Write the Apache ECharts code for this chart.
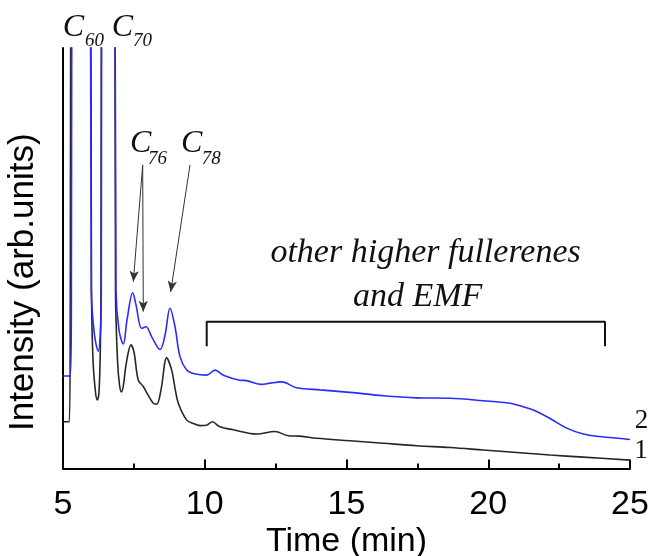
<!DOCTYPE html>
<html><head><meta charset="utf-8">
<script src="https://cdn.jsdelivr.net/npm/echarts@6/dist/echarts.min.js"></script>
<style>html,body{margin:0;padding:0;background:#fff}#c{width:653px;height:556px}</style>
</head><body><div id="c"></div>
<script>
// ---- data (time in min, intensity in arbitrary units; values above 100 are clipped peaks) ----
const curve1 = [
  [5.0,11.1],[5.222,11.1],[5.257,40.1],[5.293,150],[5.6,200],[5.952,150],[6.005,42.4],[6.058,25.8],
  [6.146,18.2],[6.21,16.3],[6.27,18.2],[6.316,28.2],[6.34,42.4],[6.369,150],[6.587,200],[6.817,150],
  [6.852,42.4],[6.922,25.8],[6.993,19.9],[7.063,18.2],[7.134,19.9],[7.222,24.6],[7.399,29.4],[7.504,27.7],
  [7.656,21.0],[7.832,19.5],[7.998,17.5],[8.185,15.5],[8.305,15.3],[8.457,18.7],[8.658,26.3],[8.834,23.4],
  [8.951,19.1],[9.067,15.5],[9.363,11.5],[9.596,10.7],[9.832,10.2],[10.069,10.3],[10.266,11.1],[10.538,9.9],
  [11.007,9.2],[11.832,8.2],[12.478,8.8],[12.947,7.8],[13.36,7.7],[13.949,7.2],[15.123,6.6],[16.298,6.0],
  [17.476,5.4],[18.651,5.0],[19.825,4.4],[21.004,3.8],[22.178,3.2],[23.353,2.7],[25.0,2.0]
];
const curve2 = [
  [5.0,22.0],[5.26,22.0],[5.295,40.0],[5.328,150],[5.635,200],[5.952,150],[5.998,42.4],[6.111,31.7],
  [6.245,27.9],[6.323,32.9],[6.351,42.4],[6.376,150],[6.587,200],[6.817,150],[6.869,42.4],[6.975,32.9],
  [7.127,29.6],[7.257,35.3],[7.459,41.8],[7.575,38.9],[7.776,33.3],[7.928,33.7],[8.129,31.3],[8.422,28.3],
  [8.598,31.7],[8.774,38.1],[8.951,33.7],[9.127,26.6],[9.363,23.4],[9.596,22.6],[10.069,22.2],[10.362,23.4],
  [10.654,22.2],[11.243,21.0],[11.48,20.9],[12.009,20.0],[12.302,20.3],[12.714,20.6],[13.243,19.2],[14.065,18.7],
  [15.123,18.1],[16.298,17.3],[17.476,16.8],[18.651,16.7],[19.825,16.1],[20.767,15.5],[21.12,14.9],[21.589,13.9],
  [22.178,11.9],[22.767,9.6],[23.353,8.2],[23.942,7.6],[25.0,6.9]
];
const bracket = [[10.069,29.1],[10.069,34.9],[24.118,34.9],[24.118,29.1]];
const arrows = [
  [[7.811,72.2],[7.48,44.4]],
  [[7.811,72.2],[7.832,37.3]],
  [[9.48,72.2],[8.799,42.0]]
];
// peak labels: [main text, subscript, main anchor, subscript anchor]
const peakLabels = [
  ['C','60',[4.989,104.76],[5.776,101.55]],
  ['C','70',[6.718,104.76],[7.469,101.55]],
  ['C','76',[7.363,77.34],[7.998,73.72]],
  ['C','78',[9.162,77.34],[9.892,73.72]]
];
const regionText = [['other higher fullerenes',[17.79,51.3]],['and EMF',[17.51,40.8]]];
const curveNames = [['2',[25.406,11.3]],['1',[25.388,4.16]]];
const xName = 'Time (min)';
const yName = 'Intensity (arb.units)';
const xMin = 5, xMax = 25, xInterval = 5;

const chart = echarts.init(document.getElementById('c'), null, {renderer:'canvas'});
const sans = 'Liberation Sans, Arial, sans-serif';
const serif = 'Liberation Serif, Times New Roman, serif';
chart.setOption({
  animation:false,
  backgroundColor:'#fff',
  grid:{left:63,right:23,top:48,bottom:87.5,containLabel:false,outerBoundsMode:'none'},
  xAxis:{type:'value',min:xMin,max:xMax,interval:xInterval,
    axisLine:{lineStyle:{color:'#000',width:2}},
    axisTick:{inside:true,length:9,lineStyle:{color:'#000',width:2}},
    minorTick:{show:true,splitNumber:2,length:5,lineStyle:{color:'#000',width:2}},
    splitLine:{show:false},
    axisLabel:{color:'#000',fontSize:34,fontFamily:sans,margin:19}},
  yAxis:{type:'value',min:0,max:100,
    axisLine:{show:true,lineStyle:{color:'#000',width:2}},
    axisTick:{show:false},axisLabel:{show:false},splitLine:{show:false},
    name:yName,nameLocation:'middle',nameGap:22,
    nameTextStyle:{color:'#000',fontSize:35,fontFamily:sans,padding:[0,48,0,0]}},
  series:[
    {type:'line',data:curve1,showSymbol:false,smooth:0.35,clip:true,
     lineStyle:{color:'#262626',width:1.6},
     markLine:{silent:true,symbol:['none','arrow'],symbolSize:[7,11],label:{show:false},
       lineStyle:{color:'#333',width:1,type:'solid'},
       data:arrows.map(a=>[{coord:a[0]},{coord:a[1]}])}},
    {type:'line',data:curve2,showSymbol:false,smooth:0.35,clip:true,
     lineStyle:{color:'#2a2aff',width:1.6}},
    {type:'line',data:bracket,showSymbol:false,smooth:false,lineStyle:{color:'#111',width:2}}
  ]
});
const px = c => chart.convertToPixel({gridIndex:0}, c);
const g = [];
peakLabels.forEach(p=>{
  const a = px(p[2]), b = px(p[3]);
  g.push({type:'text',x:a[0],y:a[1],style:{text:p[0],font:'italic 32px '+serif,fill:'#111',align:'left',verticalAlign:'middle'}});
  g.push({type:'text',x:b[0],y:b[1],style:{text:p[1],font:'italic 19px '+serif,fill:'#111',align:'left',verticalAlign:'middle'}});
});
regionText.forEach(r=>{
  const a = px(r[1]);
  g.push({type:'text',x:a[0],y:a[1],style:{text:r[0],font:'italic 34px '+serif,fill:'#111',align:'center',verticalAlign:'middle'}});
});
curveNames.forEach(r=>{
  const a = px(r[1]);
  g.push({type:'text',x:a[0],y:a[1],style:{text:r[0],font:'27px '+serif,fill:'#111',align:'center',verticalAlign:'middle'}});
});
const xc = px([(xMin+xMax)/2, 0]);
g.push({type:'text',x:xc[0],y:xc[1]+73,style:{text:xName,font:'34px '+sans,fill:'#000',align:'center',verticalAlign:'middle'}});
chart.setOption({graphic:g});
</script></body></html>
